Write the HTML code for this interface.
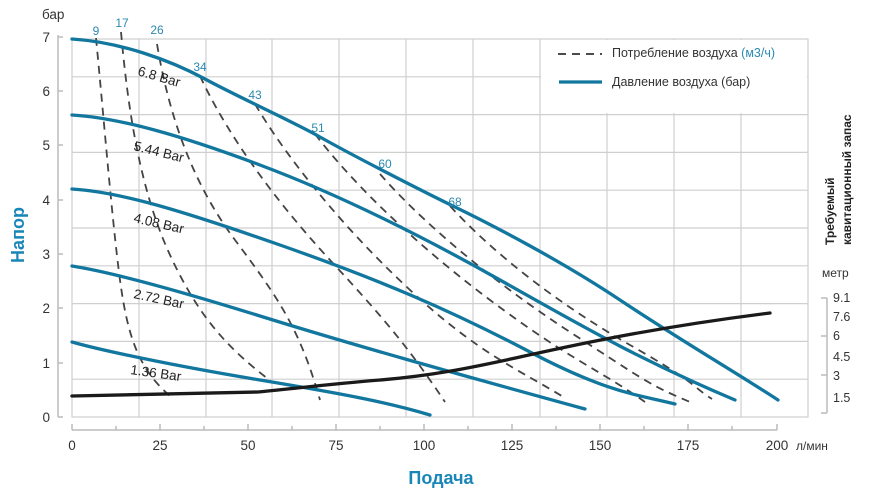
<!DOCTYPE html>
<html><head><meta charset="utf-8"><style>
body{margin:0;background:#fff}
svg{display:block}
text{font-family:"Liberation Sans",Arial,sans-serif}
</style></head><body>
<svg width="871" height="497" viewBox="0 0 871 497">
<!-- grid -->
<g stroke="#cfcfcf" stroke-width="1.2" fill="none">
<rect x="72" y="39" width="736" height="378"/>
<path d="M139 39V417M206 39V417M272 39V417M339 39V417M406 39V417M473 39V417M540 39V417M607 39V417M674 39V417M741 39V417"/>
<path d="M72 76.8H808M72 114.6H808M72 152.4H808M72 190.2H808M72 228H808M72 265.8H808M72 303.6H808M72 341.4H808M72 379.2H808"/>
</g>
<rect x="541" y="40" width="266" height="73" fill="#fff"/>
<!-- left axis -->
<g stroke="#bbb" stroke-width="1.5" fill="none">
<path d="M58 35V417M58 37H63M58 91H63M58 145H63M58 200H63M58 254H63M58 308H63M58 363H63M58 417H63"/>
<path d="M72 430H777M72 430V424M116 430V426M160 430V424M204 430V426M248 430V424M292 430V426M336 430V424M380 430V426M424 430V424M468 430V426M512 430V424M556 430V426M600 430V424M644 430V426M688 430V424M732 430V426M777 430V424"/>
<path d="M827 298V413M827 298H821M827 336H821M827 375H821M827 413H821"/>
</g>
<g font-size="13.5" fill="#333">
<text x="42" y="19">бар</text>
<g text-anchor="end"><text x="50" y="42">7</text><text x="50" y="96">6</text><text x="50" y="150">5</text><text x="50" y="205">4</text><text x="50" y="259">3</text><text x="50" y="313">2</text><text x="50" y="368">1</text><text x="50" y="422">0</text></g>
<g text-anchor="middle"><text x="72" y="450">0</text><text x="160" y="450">25</text><text x="248" y="450">50</text><text x="336" y="450">75</text><text x="424" y="450">100</text><text x="512" y="450">125</text><text x="600" y="450">150</text><text x="688" y="450">175</text><text x="777" y="450">200</text></g>
<text x="796" y="450" font-size="12">л/мин</text>
<text x="822" y="277" font-size="12">метр</text>
<g font-size="12.5"><text x="833" y="302">9.1</text><text x="833" y="321">7.6</text><text x="833" y="340">6</text><text x="833" y="361">4.5</text><text x="833" y="380">3</text><text x="833" y="402">1.5</text></g>
</g>
<text transform="translate(24,235) rotate(-90)" text-anchor="middle" font-size="18" font-weight="bold" fill="#1a86b8">Напор</text>
<text x="441" y="484" text-anchor="middle" font-size="18" font-weight="bold" fill="#1a86b8">Подача</text>
<g font-size="12" font-weight="bold" fill="#222"><text transform="translate(834,245) rotate(-90)">Требуемый</text><text transform="translate(851,245) rotate(-90)">кавитационный запас</text></g>
<!-- dashed -->
<g stroke="#444" stroke-width="1.8" fill="none" stroke-dasharray="8,6">
<path d="M96 38 C104 120 112 220 120 280 S140 370 170 396"/>
<path d="M121 32 C128 110 140 190 170 255 S230 350 272 382"/>
<path d="M157 44 C168 110 190 180 235 240 S300 330 320 400"/>
<path d="M200 76 C225 130 270 195 330 260 S410 350 445 402"/>
<path d="M255 104 C285 155 340 225 410 290 S520 370 565 398"/>
<path d="M315 134 C350 180 410 240 490 300 S600 370 645 402"/>
<path d="M380 174 C420 220 490 280 570 332 S650 385 690 402"/>
<path d="M450 206 C495 255 560 305 630 345 S690 385 712 399"/>
</g>
<!-- blue -->
<g stroke="#12779f" stroke-width="3.3" fill="none" stroke-linecap="round">
<path d="M72 39 C120 42 170 60 205 79 S290 120 320 137 S420 190 455 207 S560 260 620 300 S740 375 778 400"/>
<path d="M72 115 C120 118 180 135 260 165 S420 235 500 280 S640 360 735 400"/>
<path d="M72 189 C120 192 180 210 280 245 S450 310 530 352 S640 395 675 404"/>
<path d="M72 266 C110 272 170 288 260 316 C350 344 450 372 585 409"/>
<path d="M72 342 C100 350 170 365 260 380 S390 403 430 415"/>
</g>
<path d="M72 396 L258 392 C300 388 330 384 380 380 S470 368 520 357 S650 328 770 313" stroke="#1a1a1a" stroke-width="3.3" fill="none" stroke-linecap="round"/>
<!-- labels -->
<g font-size="12" fill="#2a8ab0" text-anchor="middle"><text x="96" y="35">9</text><text x="122" y="27">17</text><text x="157" y="34">26</text><text x="200" y="71">34</text><text x="255" y="99">43</text><text x="318" y="132">51</text><text x="385" y="168">60</text><text x="455" y="206">68</text></g>
<g font-size="13.5" fill="#222">
<text transform="translate(137,75) rotate(16)">6.8 Bar</text>
<text transform="translate(133,150) rotate(14)">5.44 Bar</text>
<text transform="translate(133,222) rotate(13)">4.08 Bar</text>
<text transform="translate(133,298) rotate(12)">2.72 Bar</text>
<text transform="translate(130,374) rotate(8)">1.36 Bar</text>
</g>
<!-- legend -->
<path d="M558 54H602" stroke="#333" stroke-width="1.8" stroke-dasharray="8,6"/>
<path d="M559 82H602" stroke="#12779f" stroke-width="3.3"/>
<text x="612" y="57" font-size="12.5" fill="#333">Потребление воздуха <tspan fill="#2a8ab0">(м3/ч)</tspan></text>
<text x="612" y="86" font-size="12.5" fill="#333">Давление воздуха (бар)</text>
</svg>
</body></html>
